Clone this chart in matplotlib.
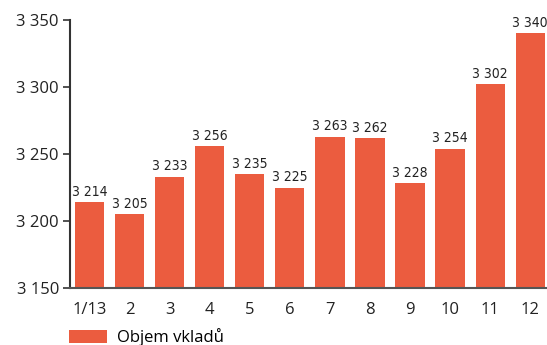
import matplotlib.pyplot as plt
from matplotlib import font_manager

months = ["1/13", "2", "3", "4", "5", "6", "7", "8", "9", "10", "11", "12"]
deposits = [3214, 3205, 3233, 3256, 3235, 3225, 3263, 3262, 3228, 3254, 3302, 3340]
yticks = [3150, 3200, 3250, 3300, 3350]

bar_color = "#EB5C3F"
text_color = "#222222"

names = {f.name for f in font_manager.fontManager.ttflist}
base_font = "Open Sans" if "Open Sans" in names else "DejaVu Sans"

def fmt(v):
    return f"{v:,}".replace(",", " ")

fig = plt.figure(figsize=(5.47, 3.45), dpi=100)
ax = fig.add_axes([70 / 547, 1 - 288 / 345, 477 / 547, 268 / 345])

x = list(range(len(months)))
ax.bar(x, [v - 3150 for v in deposits], bottom=3150, width=0.73,
       color=bar_color, label="Objem vkladů", zorder=2)

# value labels in a condensed face
for xi, v in zip(x, deposits):
    ax.text(xi, v + 2.5, fmt(v), ha="center", va="bottom", fontsize=10,
            family="DejaVu Sans", fontstretch="condensed", color=text_color)

ax.set_xlim(-0.49, 11.42)
ax.set_ylim(3150, 3350)
ax.set_yticks(yticks)
ax.set_yticklabels([fmt(t) for t in yticks], family=base_font, fontsize=12, color=text_color)
ax.set_xticks(x)
ax.set_xticklabels(months, family=base_font, fontsize=12, color=text_color)
ax.tick_params(axis="x", length=0, pad=10)
ax.tick_params(axis="y", length=5, width=1.2, color="#333333", pad=3)

for side in ["top", "right"]:
    ax.spines[side].set_visible(False)
ax.spines["left"].set_color("#333333")
ax.spines["left"].set_linewidth(1.5)
ax.spines["bottom"].set_color("#555555")
ax.spines["bottom"].set_linewidth(1.5)

fig.legend(loc="center left", bbox_to_anchor=(69 / 547, 1 - 337 / 345), frameon=False,
           borderpad=0, borderaxespad=0,
           handlelength=2.3, handleheight=0.8, handletextpad=0.6,
           prop={"family": base_font, "size": 12})

fig.savefig("out.png", dpi=100)
